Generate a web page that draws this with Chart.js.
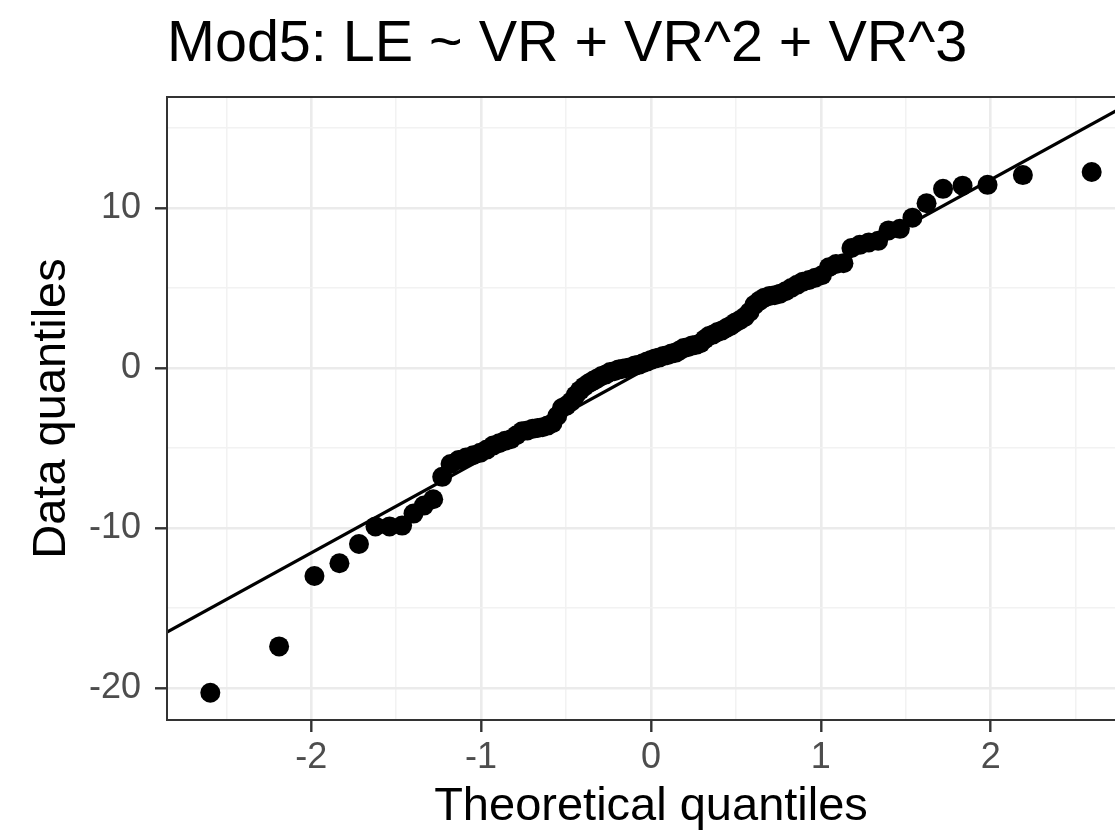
<!DOCTYPE html>
<html>
<head>
<meta charset="utf-8">
<script src="https://cdn.jsdelivr.net/npm/chart.js@4.4.1/dist/chart.umd.min.js"></script>
<style>
  html, body { margin: 0; padding: 0; background: #fff; overflow: hidden; }
  canvas { display: block; }
</style>
</head>
<body>
<canvas id="qq" width="1145" height="835"></canvas>
<script>
// theoretical quantiles (x) and residual quantiles (y)
const qTheo = [
  -2.594, -2.189, -1.981, -1.834, -1.719, -1.622, -1.539, -1.465, -1.398, -1.337,
  -1.282, -1.229, -1.180, -1.133, -1.089, -1.047, -1.006, -0.967, -0.930, -0.894,
  -0.859, -0.825, -0.792, -0.759, -0.728, -0.697, -0.667, -0.638, -0.609, -0.580,
  -0.552, -0.524, -0.497, -0.470, -0.444, -0.418, -0.392, -0.366, -0.341, -0.316,
  -0.291, -0.266, -0.241, -0.216, -0.192, -0.168, -0.144, -0.120, -0.096, -0.072,
  -0.048, -0.024, 0,
  0.024, 0.048, 0.072, 0.096, 0.120, 0.144, 0.168, 0.192, 0.216, 0.241,
  0.266, 0.291, 0.316, 0.341, 0.366, 0.392, 0.418, 0.444, 0.470, 0.497,
  0.524, 0.552, 0.580, 0.609, 0.638, 0.667, 0.697, 0.728, 0.759, 0.792,
  0.825, 0.859, 0.894, 0.930, 0.967, 1.006, 1.047, 1.089, 1.133, 1.180,
  1.229, 1.282, 1.337, 1.398, 1.465, 1.539, 1.622, 1.719, 1.834, 1.981,
  2.189, 2.594
];
const dataQ = [
  -20.3, -17.4, -13.0, -12.2, -11.0, -9.9, -9.9, -9.85, -9.1, -8.6,
  -8.2, -6.8, -6.0, -5.75, -5.6, -5.45, -5.3, -5.1, -4.85, -4.7,
  -4.55, -4.45, -4.2, -3.95, -3.9, -3.8, -3.75, -3.7, -3.6, -3.45,
  -3.0, -2.5, -2.35, -2.1, -1.7, -1.4, -1.15, -0.95, -0.8, -0.65,
  -0.5, -0.4, -0.25, -0.2, -0.1, -0.05, 0.0, 0.05, 0.15, 0.2,
  0.3, 0.4, 0.5,
  0.6, 0.65, 0.75, 0.8, 0.9, 0.95, 1.1, 1.25, 1.3, 1.4,
  1.45, 1.55, 1.8, 2.0, 2.1, 2.25, 2.35, 2.5, 2.65, 2.85,
  3.0, 3.2, 3.5, 3.95, 4.2, 4.4, 4.5, 4.55, 4.65, 4.8,
  5.0, 5.2, 5.4, 5.5, 5.65, 5.8, 6.3, 6.5, 6.55, 7.5,
  7.7, 7.85, 7.95, 8.6, 8.7, 9.4, 10.3, 11.2, 11.4, 11.45,
  12.06, 12.25
];

// reference line, end points at the panel edges
const lineX = [-2.849, 2.849];
const lineY = [-16.5, 16.72];

const xTicks = [-2.5, -2, -1.5, -1, -0.5, 0, 0.5, 1, 1.5, 2, 2.5];
const yTicks = [-20, -15, -10, -5, 0, 5, 10, 15];
const xRange = [-2.849, 2.849];
const yRange = [-22.0, 16.94];

const chartTitle = 'Mod5: LE ~ VR + VR^2 + VR^3';
const xTitle = 'Theoretical quantiles';
const yTitle = 'Data quantiles';

Chart.defaults.font.family = '"Liberation Sans", Arial, Helvetica, sans-serif';

const isMajorX = v => Number.isInteger(v);
const isMajorY = v => v % 10 === 0;

// ggplot theme_bw style panel border
const panelBorder = {
  id: 'panelBorder',
  afterDatasetsDraw(chart) {
    const a = chart.chartArea;
    const ctx = chart.ctx;
    ctx.save();
    ctx.strokeStyle = '#333333';
    ctx.lineWidth = 2;
    ctx.strokeRect(a.left, a.top, a.right - a.left, a.bottom - a.top);
    ctx.restore();
  }
};

const qqPoints = qTheo.map((q, i) => ({ x: q, y: dataQ[i] }));
const linePoints = lineX.map((x, i) => ({ x: x, y: lineY[i] }));

new Chart(document.getElementById('qq'), {
  type: 'scatter',
  data: {
    datasets: [
      {
        type: 'line',
        data: linePoints,
        borderColor: '#000',
        borderWidth: 3.2,
        pointRadius: 0,
        fill: false
      },
      {
        data: qqPoints,
        pointRadius: 10,
        pointBackgroundColor: '#000',
        pointBorderWidth: 0,
        borderColor: '#000'
      }
    ]
  },
  options: {
    responsive: false,
    animation: false,
    devicePixelRatio: 1,
    layout: { padding: { left: 0, right: 9, top: 0, bottom: 0 } },
    plugins: {
      legend: { display: false },
      tooltip: { enabled: false },
      title: {
        display: true,
        text: chartTitle,
        align: 'start',
        fullSize: false,
        color: '#000',
        font: { size: 57.5, weight: 'normal' },
        padding: { top: 11, bottom: 17 }
      }
    },
    scales: {
      x: {
        type: 'linear',
        min: xRange[0],
        max: xRange[1],
        afterBuildTicks: s => { s.ticks = xTicks.map(v => ({ value: v })); },
        afterFit: s => { s.height = 115; },
        border: { display: false },
        grid: {
          color: c => isMajorX(c.tick.value) ? '#EBEBEB' : '#F2F2F2',
          lineWidth: c => isMajorX(c.tick.value) ? 2.6 : 1.5,
          tickColor: c => isMajorX(c.tick.value) ? '#333333' : 'rgba(0,0,0,0)',
          tickWidth: 2.4,
          tickLength: 12
        },
        ticks: {
          autoSkip: false,
          maxRotation: 0,
          padding: 4,
          color: '#4D4D4D',
          font: { size: 36 },
          callback: v => isMajorX(v) ? String(v) : ''
        },
        title: {
          display: true,
          text: xTitle,
          color: '#000',
          font: { size: 47 },
          padding: { top: 0, bottom: 0 }
        }
      },
      y: {
        type: 'linear',
        min: yRange[0],
        max: yRange[1],
        afterBuildTicks: s => { s.ticks = yTicks.map(v => ({ value: v })); },
        afterFit: s => { s.width = 167; },
        border: { display: false },
        grid: {
          color: c => isMajorY(c.tick.value) ? '#EBEBEB' : '#F2F2F2',
          lineWidth: c => isMajorY(c.tick.value) ? 2.6 : 1.5,
          tickColor: c => isMajorY(c.tick.value) ? '#333333' : 'rgba(0,0,0,0)',
          tickWidth: 2.4,
          tickLength: 12
        },
        ticks: {
          autoSkip: false,
          padding: 14,
          color: '#4D4D4D',
          font: { size: 36 },
          callback: v => isMajorY(v) ? String(v) : ''
        },
        title: {
          display: true,
          text: yTitle,
          color: '#000',
          font: { size: 47 },
          padding: { top: 24, bottom: 0 }
        }
      }
    }
  },
  plugins: [panelBorder]
});
</script>
</body>
</html>
